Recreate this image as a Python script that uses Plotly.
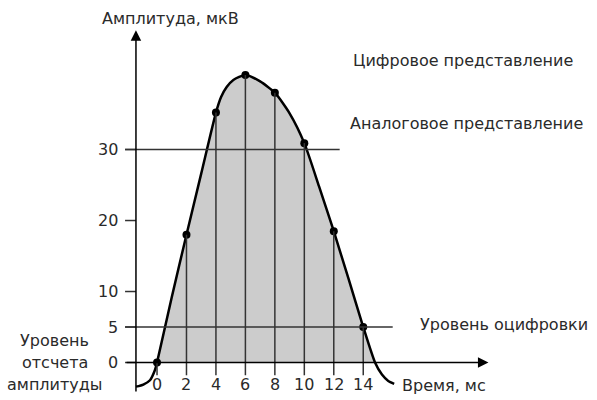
import plotly.graph_objects as go

# digital samples (ms, uV)
sample_t = [0, 2, 4, 6, 8, 10, 12, 14]
sample_v = [0, 18, 35.2, 40.5, 38, 30.9, 18.5, 5]

# analog signal
analog_t = [-1.43, -0.93, -0.48, -0.14, 0, 1, 2, 3, 4, 4.35, 4.73, 5.18, 6, 7, 8, 9, 10, 11, 12, 13, 14, 14.8, 15.27, 15.7, 16.1]
analog_v = [-3.4, -3.1, -2.5, -1.05, 0, 9.2, 18, 26.6, 35.2, 37.4, 38.8, 39.8, 40.5, 39.6, 38, 35.1, 30.9, 24.8, 18.5, 11.8, 5, 0, -1.7, -2.6, -3.0]

x_ticks = [0, 2, 4, 6, 8, 10, 12, 14]
y_ticks = [0, 5, 10, 20, 30]
quant_level = 5
level_30 = 30
ref_label = ["Уровень", "отсчета", "амплитуды"]

FONT = "DejaVu Sans"
TXT = "#2a2a2a"
fs = 16

fig = go.Figure()

# grey area under the analog curve
fill_t = [t for t, v in zip(analog_t, analog_v) if v >= 0]
fill_v = [v for v in analog_v if v >= 0]
fig.add_trace(go.Scatter(x=fill_t, y=fill_v, mode="lines", fill="tozeroy",
                         fillcolor="#cccccc",
                         line=dict(width=0, shape="spline", smoothing=0.6),
                         hoverinfo="skip"))

# vertical sample lines, with tick below the axis
for t, v in zip(sample_t, sample_v):
    fig.add_shape(type="line", x0=t, x1=t, y0=-1.8, y1=v,
                  line=dict(color="#333333", width=1.5))

# level lines
fig.add_shape(type="line", x0=-2.17, x1=12.4, y0=level_30, y1=level_30,
              line=dict(color="#333333", width=1.5))
fig.add_shape(type="line", x0=-2.17, x1=16.0, y0=quant_level, y1=quant_level,
              line=dict(color="#333333", width=1.5))
for v in y_ticks:
    fig.add_shape(type="line", x0=-2.17, x1=-1.43, y0=v, y1=v,
                  line=dict(color="#333333", width=1.5))

# analog curve
fig.add_trace(go.Scatter(x=analog_t, y=analog_v, mode="lines",
                         line=dict(color="black", width=2.5, shape="spline", smoothing=0.6),
                         hoverinfo="skip"))
# digital points
fig.add_trace(go.Scatter(x=sample_t, y=sample_v, mode="markers",
                         marker=dict(color="black", size=8), hoverinfo="skip"))

# axes with arrows
fig.add_annotation(x=22.5, y=0, ax=-2.17, ay=0, xref="x", yref="y", axref="x", ayref="y",
                   showarrow=True, arrowhead=2, arrowsize=1.4, arrowwidth=1.5,
                   arrowcolor="black", text="")
fig.add_annotation(x=-1.43, y=46.8, ax=-1.43, ay=-4.3, xref="x", yref="y", axref="x", ayref="y",
                   showarrow=True, arrowhead=2, arrowsize=1.4, arrowwidth=1.5,
                   arrowcolor="black", text="")

# tick labels
for t in x_ticks:
    fig.add_annotation(x=t, y=-3.1, text=str(t), showarrow=False,
                       font=dict(family=FONT, size=fs, color=TXT))
for v in y_ticks:
    fig.add_annotation(x=-2.5, y=v, text=str(v), showarrow=False, xanchor="right",
                       font=dict(family=FONT, size=fs, color=TXT))

labels = [
    ("Амплитуда, мкВ", -3.87, 48.5),
    ("Цифровое представление", 13.15, 42.5),
    ("Аналоговое представление", 12.97, 33.6),
    ("Уровень оцифровки", 17.7, 5.3),
    ("Время, мс", 16.5, -3.2),
]
for text, x, y in labels:
    fig.add_annotation(x=x, y=y, text=text, showarrow=False, xanchor="left",
                       font=dict(family=FONT, size=fs, color=TXT))

# three-line label at the zero level
for i, line in enumerate(ref_label):
    fig.add_annotation(x=-6.96, y=3.15 - 3.1 * i, text=line, showarrow=False,
                       font=dict(family=FONT, size=fs, color=TXT))

fig.update_layout(width=597, height=400, margin=dict(l=0, r=0, t=0, b=0),
                  paper_bgcolor="white", plot_bgcolor="white", showlegend=False,
                  xaxis=dict(range=[-10.66, 29.87], visible=False, fixedrange=True),
                  yaxis=dict(range=[-5.28, 51.06], visible=False, fixedrange=True))

fig.write_html("out.html", config={"displayModeBar": False},
               post_script="document.body.style.margin='0';document.body.style.overflow='hidden';")
